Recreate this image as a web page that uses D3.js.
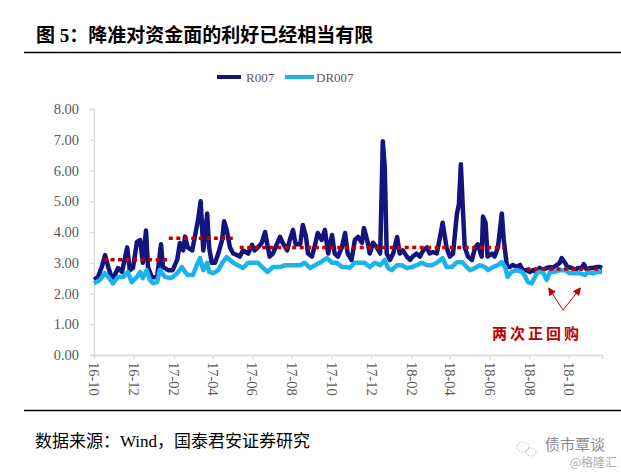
<!DOCTYPE html>
<html>
<head>
<meta charset="utf-8">
<script src="https://cdn.jsdelivr.net/npm/d3@7"></script>
<style>
  body { margin: 0; background: #fff; }
</style>
</head>
<body>
<script>
// data
const r007 = [
  ["2016-10-01", 2.45], ["2016-10-07", 2.53], ["2016-10-13", 2.86], ["2016-10-18", 3.25], ["2016-10-23", 2.86],
  ["2016-10-29", 2.45], ["2016-11-02", 2.6], ["2016-11-07", 2.83], ["2016-11-13", 2.7], ["2016-11-21", 3.5],
  ["2016-11-25", 2.76], ["2016-11-30", 2.83], ["2016-12-06", 3.68], ["2016-12-11", 3.74], ["2016-12-15", 3.0],
  ["2016-12-20", 4.05], ["2016-12-23", 2.86], ["2016-12-29", 2.53], ["2017-01-06", 2.53], ["2017-01-12", 3.6],
  ["2017-01-15", 2.86], ["2017-01-23", 2.76], ["2017-01-30", 2.76], ["2017-02-06", 3.1], ["2017-02-10", 3.64],
  ["2017-02-15", 3.4], ["2017-02-18", 3.85], ["2017-02-22", 3.5], ["2017-03-01", 3.4], ["2017-03-05", 3.84],
  ["2017-03-10", 4.4], ["2017-03-14", 5.0], ["2017-03-18", 3.4], ["2017-03-24", 4.6], ["2017-03-27", 3.5],
  ["2017-03-31", 3.0], ["2017-04-05", 3.0], ["2017-04-10", 3.3], ["2017-04-16", 3.74], ["2017-04-19", 4.35],
  ["2017-04-23", 4.07], ["2017-04-28", 3.5], ["2017-05-03", 3.3], ["2017-05-09", 3.25], ["2017-05-13", 3.2],
  ["2017-05-18", 3.4], ["2017-05-26", 3.3], ["2017-06-01", 3.58], ["2017-06-05", 3.4], ["2017-06-10", 3.5],
  ["2017-06-16", 3.65], ["2017-06-21", 4.0], ["2017-06-24", 3.65], ["2017-06-28", 3.2], ["2017-07-03", 3.3],
  ["2017-07-09", 3.6], ["2017-07-14", 3.84], ["2017-07-18", 3.65], ["2017-07-25", 3.4], ["2017-07-29", 3.74],
  ["2017-08-03", 4.07], ["2017-08-07", 3.6], ["2017-08-14", 3.6], ["2017-08-18", 4.23], ["2017-08-23", 3.84],
  ["2017-08-26", 3.3], ["2017-09-01", 3.2], ["2017-09-06", 3.6], ["2017-09-10", 3.97], ["2017-09-16", 3.74],
  ["2017-09-21", 4.07], ["2017-09-26", 3.3], ["2017-10-02", 3.9], ["2017-10-06", 3.3], ["2017-10-11", 3.2],
  ["2017-10-17", 3.5], ["2017-10-22", 3.97], ["2017-10-26", 3.3], ["2017-11-01", 3.09], ["2017-11-06", 3.74],
  ["2017-11-11", 3.84], ["2017-11-17", 3.65], ["2017-11-20", 4.13], ["2017-11-25", 3.74], ["2017-11-29", 3.3],
  ["2017-12-04", 3.65], ["2017-12-10", 3.5], ["2017-12-15", 3.3], ["2017-12-19", 6.95], ["2017-12-22", 6.1],
  ["2017-12-25", 3.3], ["2017-12-30", 3.09], ["2018-01-04", 3.3], ["2018-01-10", 3.84], ["2018-01-14", 3.3],
  ["2018-01-19", 3.4], ["2018-01-25", 3.2], ["2018-01-30", 3.09], ["2018-02-03", 3.2], ["2018-02-09", 3.3],
  ["2018-02-14", 3.2], ["2018-02-19", 3.4], ["2018-02-25", 3.5], ["2018-03-01", 3.3], ["2018-03-06", 3.35],
  ["2018-03-12", 3.3], ["2018-03-17", 3.84], ["2018-03-21", 4.3], ["2018-03-27", 3.5], ["2018-04-01", 3.2],
  ["2018-04-06", 3.3], ["2018-04-12", 4.6], ["2018-04-15", 4.9], ["2018-04-18", 6.2], ["2018-04-21", 4.8],
  ["2018-04-24", 3.5], ["2018-04-29", 3.2], ["2018-05-05", 3.09], ["2018-05-10", 3.5], ["2018-05-14", 3.6],
  ["2018-05-20", 3.2], ["2018-05-22", 4.5], ["2018-05-26", 4.3], ["2018-05-29", 3.2], ["2018-06-05", 3.3],
  ["2018-06-09", 3.2], ["2018-06-14", 3.5], ["2018-06-20", 4.6], ["2018-06-23", 3.74], ["2018-06-28", 2.86],
  ["2018-07-02", 2.86], ["2018-07-07", 2.93], ["2018-07-13", 2.86], ["2018-07-18", 2.93], ["2018-07-22", 2.76],
  ["2018-07-28", 2.76], ["2018-08-02", 2.7], ["2018-08-07", 2.76], ["2018-08-13", 2.7], ["2018-08-17", 2.83],
  ["2018-08-22", 2.76], ["2018-08-28", 2.83], ["2018-09-02", 2.86], ["2018-09-06", 2.83], ["2018-09-13", 2.93],
  ["2018-09-17", 3.0], ["2018-09-20", 3.15], ["2018-09-25", 3.0], ["2018-09-29", 2.86], ["2018-10-06", 2.83],
  ["2018-10-10", 2.76], ["2018-10-15", 2.83], ["2018-10-21", 2.83], ["2018-10-24", 2.96], ["2018-10-29", 2.76],
  ["2018-11-02", 2.83], ["2018-11-07", 2.83], ["2018-11-13", 2.86], ["2018-11-18", 2.86], ["2018-11-21", 2.83]
];

const dr007 = [
  ["2016-10-01", 2.33], ["2016-10-10", 2.44], ["2016-10-18", 2.66], ["2016-10-23", 2.54], ["2016-10-30", 2.33],
  ["2016-11-07", 2.54], ["2016-11-15", 2.54], ["2016-11-22", 2.7], ["2016-11-28", 2.37], ["2016-12-06", 2.54],
  ["2016-12-11", 2.7], ["2016-12-15", 2.5], ["2016-12-21", 2.76], ["2016-12-26", 2.44], ["2016-12-31", 2.33],
  ["2017-01-06", 2.37], ["2017-01-10", 2.76], ["2017-01-18", 2.54], ["2017-01-26", 2.5], ["2017-01-30", 2.54],
  ["2017-02-06", 2.66], ["2017-02-13", 2.86], ["2017-02-18", 2.7], ["2017-02-22", 2.6], ["2017-03-02", 2.6],
  ["2017-03-08", 2.92], ["2017-03-13", 3.15], ["2017-03-18", 2.76], ["2017-03-24", 3.0], ["2017-03-27", 2.7],
  ["2017-04-02", 2.66], ["2017-04-10", 2.76], ["2017-04-17", 3.02], ["2017-04-23", 3.18], ["2017-04-28", 3.09],
  ["2017-05-03", 3.0], ["2017-05-10", 2.92], ["2017-05-18", 2.83], ["2017-05-26", 3.0], ["2017-06-02", 3.0],
  ["2017-06-10", 3.0], ["2017-06-18", 2.83], ["2017-06-25", 2.7], ["2017-07-03", 2.86], ["2017-07-14", 2.86],
  ["2017-07-22", 2.92], ["2017-07-29", 2.92], ["2017-08-06", 2.92], ["2017-08-14", 2.92], ["2017-08-21", 3.0],
  ["2017-08-29", 2.83], ["2017-09-06", 2.92], ["2017-09-13", 3.0], ["2017-09-24", 3.15], ["2017-10-02", 3.0],
  ["2017-10-09", 3.0], ["2017-10-17", 2.86], ["2017-10-25", 2.86], ["2017-10-29", 2.83], ["2017-11-06", 3.0],
  ["2017-11-14", 3.0], ["2017-11-21", 3.0], ["2017-11-29", 2.86], ["2017-12-07", 3.0], ["2017-12-15", 2.92],
  ["2017-12-22", 3.09], ["2017-12-27", 2.83], ["2018-01-02", 2.76], ["2018-01-10", 2.92], ["2018-01-17", 2.92],
  ["2018-01-25", 2.83], ["2018-02-02", 2.86], ["2018-02-09", 2.92], ["2018-02-17", 3.0], ["2018-02-25", 2.92],
  ["2018-03-04", 2.92], ["2018-03-12", 3.0], ["2018-03-21", 3.15], ["2018-03-27", 2.86], ["2018-04-04", 2.86],
  ["2018-04-12", 3.02], ["2018-04-20", 3.02], ["2018-04-27", 2.86], ["2018-05-02", 2.76], ["2018-05-10", 2.83],
  ["2018-05-17", 2.92], ["2018-05-25", 2.86], ["2018-05-30", 2.76], ["2018-06-06", 2.86], ["2018-06-14", 2.92],
  ["2018-06-20", 3.02], ["2018-06-25", 2.86], ["2018-06-29", 2.54], ["2018-07-05", 2.7], ["2018-07-13", 2.76],
  ["2018-07-21", 2.7], ["2018-07-25", 2.6], ["2018-07-30", 2.37], ["2018-08-05", 2.33], ["2018-08-10", 2.54],
  ["2018-08-14", 2.7], ["2018-08-22", 2.7], ["2018-08-28", 2.44], ["2018-09-02", 2.7], ["2018-09-09", 2.7],
  ["2018-09-17", 2.76], ["2018-09-25", 2.76], ["2018-10-02", 2.66], ["2018-10-10", 2.66], ["2018-10-18", 2.66],
  ["2018-10-26", 2.6], ["2018-10-30", 2.7], ["2018-11-07", 2.66], ["2018-11-15", 2.7], ["2018-11-21", 2.7]
];

// average levels between cuts (red dotted)
const avgLevels = [
  ["2016-10-15", "2017-01-27", 3.1],
  ["2017-01-24", "2017-05-07", 3.8],
  ["2017-05-13", "2018-06-24", 3.5],
  ["2018-07-28", "2018-11-21", 2.8]
];

const seriesNames = ["R007", "DR007"];
const yTicks = [0, 1, 2, 3, 4, 5, 6, 7, 8];
const xTickLabels = ["16-10", "16-12", "17-02", "17-04", "17-06", "17-08", "17-10",
  "17-12", "18-02", "18-04", "18-06", "18-08", "18-10"];

// annotation: arrows to the two repo dips
const arrowFrom = ["2018-09-22", 1.46];
const arrowTo = [["2018-08-31", 2.18], ["2018-10-19", 2.18]];
const noteAt = ["2018-08-13", 0.52];
const noteText = "两次正回购";

const width = 621, height = 475;
const serif = "'Liberation Serif', 'Times New Roman', serif";
const cjk = "'Liberation Serif', 'Noto Sans CJK SC', serif";
const colors = ["#14147f", "#1cb2ec"];
const red = "#c00000";
const gray = "#595959";

const svg = d3.select("body").append("svg")
  .attr("width", width)
  .attr("height", height)
  .style("font-family", serif);

const parse = d3.timeParse("%Y-%m-%d");
const parseTick = d3.timeParse("%y-%m");

const x = d3.scaleTime()
  .domain([parse("2016-10-01"), parse("2018-11-21")])
  .range([94, 602]);
const y = d3.scaleLinear().domain([0, 8]).range([355, 109]);

// title + rules
svg.append("text")
  .attr("x", 36).attr("y", 42)
  .style("font-family", cjk)
  .style("font-size", "19px")
  .style("font-weight", "bold")
  .text("图 5：降准对资金面的利好已经相当有限");

svg.append("line").attr("x1", 24).attr("x2", 621).attr("y1", 52.5).attr("y2", 52.5)
  .attr("stroke", "#000").attr("stroke-width", 1.5);
svg.append("line").attr("x1", 24).attr("x2", 621).attr("y1", 410.5).attr("y2", 410.5)
  .attr("stroke", "#000").attr("stroke-width", 1.5);

// legend
const legend = svg.append("g").attr("transform", "translate(217,77)");
const legX = [0, 68];
seriesNames.forEach((name, i) => {
  const g = legend.append("g").attr("transform", `translate(${legX[i]},0)`);
  g.append("line").attr("x1", 0).attr("x2", i ? 29 : 24)
    .attr("stroke", colors[i]).attr("stroke-width", 4);
  g.append("text").attr("x", i ? 31 : 29).attr("y", 4.5)
    .style("font-size", "13px").attr("fill", gray).text(name);
});

// axes
const yAxis = svg.append("g")
  .attr("transform", "translate(94,0)")
  .call(d3.axisLeft(y).tickValues(yTicks).tickFormat(d3.format(".2f")).tickSize(4).tickPadding(11));

const xAxis = svg.append("g")
  .attr("transform", "translate(0,355)")
  .call(d3.axisBottom(x).tickValues(xTickLabels.map(parseTick))
    .tickFormat(d3.timeFormat("%y-%m")).tickSize(4));

xAxis.selectAll("text")
  .attr("y", 0).attr("x", 7).attr("dy", "0.35em")
  .attr("transform", "rotate(90)")
  .style("text-anchor", "start");

[xAxis, yAxis].forEach(a => {
  a.select(".domain").attr("stroke", "#d9d9d9").attr("stroke-width", 1.3);
  a.selectAll(".tick line").attr("stroke", "#d9d9d9").attr("stroke-width", 1.3);
  a.selectAll("text").attr("fill", gray).style("font-size", "14.5px").style("font-family", serif);
});

// series
const line = d3.line()
  .x(d => x(parse(d[0])))
  .y(d => y(d[1]));

[r007, dr007].forEach((s, i) => {
  svg.append("path")
    .datum(s)
    .attr("d", line)
    .attr("fill", "none")
    .attr("stroke", colors[i])
    .attr("stroke-width", 4.5)
    .attr("stroke-linejoin", "round");
});

// dotted average levels
svg.append("g")
  .selectAll("line")
  .data(avgLevels)
  .enter()
  .append("line")
  .attr("x1", d => x(parse(d[0])))
  .attr("x2", d => x(parse(d[1])))
  .attr("y1", d => y(d[2]))
  .attr("y2", d => y(d[2]))
  .attr("stroke", red)
  .attr("stroke-width", 3.5)
  .attr("stroke-dasharray", "4,3.5");

// arrows + note
svg.append("defs").append("marker")
  .attr("id", "head")
  .attr("viewBox", "0 0 10 10")
  .attr("refX", 9).attr("refY", 5)
  .attr("markerWidth", 9).attr("markerHeight", 8)
  .attr("markerUnits", "userSpaceOnUse")
  .attr("orient", "auto")
  .append("path").attr("d", "M0,0 L10,5 L0,10 z").attr("fill", red);

arrowTo.forEach(t => {
  svg.append("line")
    .attr("x1", x(parse(arrowFrom[0]))).attr("y1", y(arrowFrom[1]))
    .attr("x2", x(parse(t[0]))).attr("y2", y(t[1]))
    .attr("stroke", red).attr("stroke-width", 1)
    .attr("marker-end", "url(#head)");
});

svg.append("text")
  .attr("x", x(parse(noteAt[0]))).attr("y", y(noteAt[1]))
  .attr("text-anchor", "middle")
  .style("font-family", "'Noto Sans CJK SC', sans-serif")
  .style("font-size", "15px")
  .style("font-weight", "bold")
  .style("letter-spacing", "3px")
  .attr("fill", red)
  .text(noteText);

// source
svg.append("text")
  .attr("x", 35).attr("y", 447)
  .style("font-family", cjk)
  .style("font-size", "17px")
  .text("数据来源：Wind，国泰君安证券研究");

// watermark
const wm = svg.append("g").attr("fill", "none").attr("stroke", "#bbb").attr("stroke-dasharray", "1.5,1.5");
wm.append("ellipse").attr("cx", 523).attr("cy", 447).attr("rx", 6).attr("ry", 5);
wm.append("ellipse").attr("cx", 531).attr("cy", 452).attr("rx", 5).attr("ry", 4);
svg.append("text").attr("x", 545).attr("y", 450)
  .style("font-family", "'Noto Sans CJK SC', sans-serif").style("font-size", "15px")
  .attr("fill", "#8a8a8a").text("债市覃谈");
svg.append("text").attr("x", 617).attr("y", 467).attr("text-anchor", "end")
  .style("font-family", "'Noto Sans CJK SC', sans-serif").style("font-size", "12px")
  .attr("fill", "#b0b0b0").text("@格隆汇");
</script>
</body>
</html>
